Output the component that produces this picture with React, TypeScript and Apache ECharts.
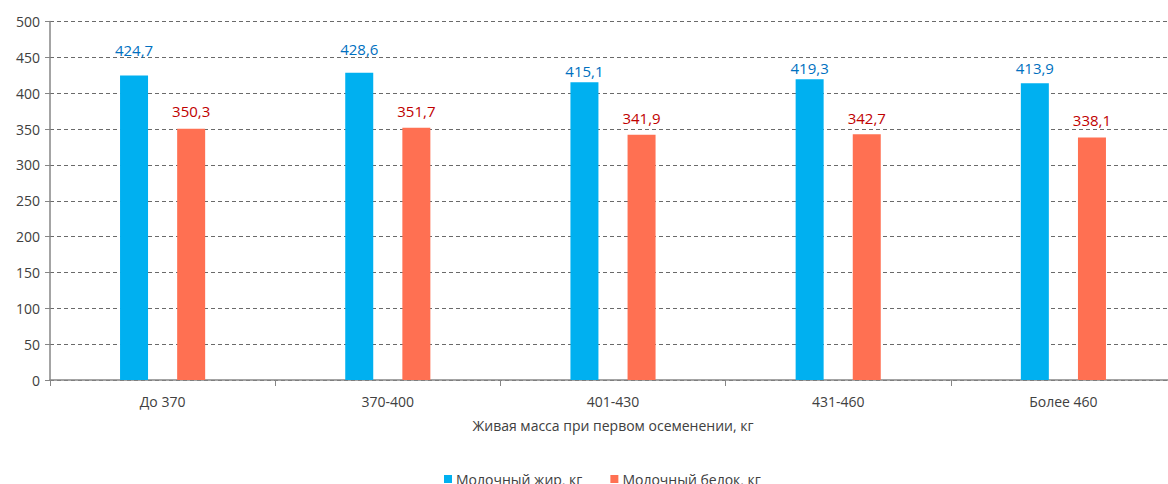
import React, { useEffect, useRef } from "react";
import * as echarts from "echarts";

const categories = ["До 370", "370-400", "401-430", "431-460", "Более 460"];
const fatValues = [424.7, 428.6, 415.1, 419.3, 413.9];
const proteinValues = [350.3, 351.7, 341.9, 342.7, 338.1];
const seriesNames = ["Молочный жир, кг", "Молочный белок, кг"];
const xAxisTitle = "Живая масса при первом осеменении, кг";

// label distances above bars (style), as placed in the original
const fatLabelDistance = [18, 16, 4, 4, 8];
const proteinLabelDistance = [10, 9, 9, 9, 10];

const FONT = "'Open Sans', 'Liberation Sans', sans-serif";

export default function App() {
  const ref = useRef<HTMLDivElement>(null);
  useEffect(() => {
    document.body.style.margin = "0";
    document.body.style.overflow = "hidden";
    const chart = echarts.init(ref.current!, null, { renderer: "svg" });
    const fmt = (p: any) => String(p.value).replace(".", ",");
    const mk = (vals: number[], dists: number[]) =>
      vals.map((v, i) => ({ value: v, label: { distance: dists[i] } }));
    chart.setOption({
      animation: false,
      textStyle: { fontFamily: FONT },
      grid: { left: 50, right: 4, top: 21.5, bottom: 104, containLabel: false },
      legend: {
        bottom: -7,
        left: 439,
        itemWidth: 8,
        itemHeight: 8,
        itemGap: 28,
        icon: "rect",
        textStyle: { fontFamily: FONT, fontSize: 14, color: "#404040", padding: [0, 0, 0, -1] },
        data: seriesNames,
      },
      xAxis: {
        type: "category",
        data: categories,
        name: xAxisTitle,
        nameLocation: "middle",
        nameGap: 38,
        nameTextStyle: { fontFamily: FONT, fontSize: 14, color: "#404040" },
        axisLine: { lineStyle: { color: "#868686", width: 1.5 } },
        axisTick: { show: true, length: 6, lineStyle: { color: "#868686" } },
        axisLabel: { fontFamily: FONT, fontSize: 14, color: "#404040", margin: 14 },
      },
      yAxis: {
        type: "value",
        min: 0,
        max: 500,
        interval: 50,
        axisLine: { show: true, lineStyle: { color: "#868686", width: 1.5 } },
        axisTick: { show: true, length: 5, lineStyle: { color: "#868686" } },
        axisLabel: { fontFamily: FONT, fontSize: 14, color: "#404040", margin: 10 },
        splitLine: { lineStyle: { color: "#6a6a6a", type: [4, 3], width: 1 } },
      },
      series: [
        {
          name: seriesNames[0],
          type: "bar",
          data: mk(fatValues, fatLabelDistance),
          barWidth: 28,
          barGap: "104%",
          itemStyle: { color: "#00B0F0" },
          label: {
            show: true,
            position: "top",
            formatter: fmt,
            fontFamily: FONT,
            fontSize: 15,
            color: "#0070C0",
          },
        },
        {
          name: seriesNames[1],
          type: "bar",
          data: mk(proteinValues, proteinLabelDistance),
          barWidth: 28,
          itemStyle: { color: "#FF7052" },
          label: {
            show: true,
            position: "top",
            formatter: fmt,
            fontFamily: FONT,
            fontSize: 15,
            color: "#C00000",
          },
        },
      ],
    });
    return () => chart.dispose();
  }, []);
  return <div ref={ref} style={{ width: 1180, height: 484 }} />;
}
